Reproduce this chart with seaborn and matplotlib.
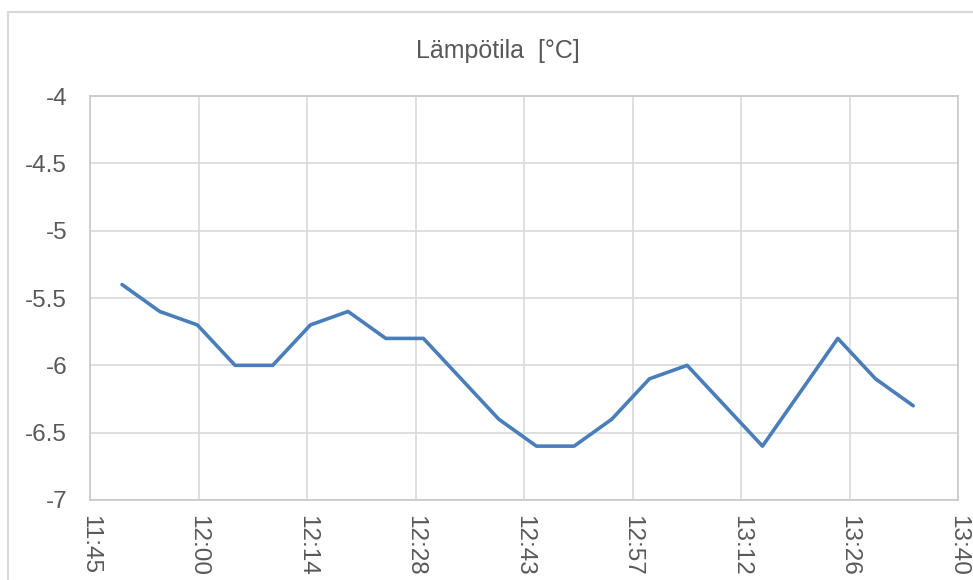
import matplotlib
matplotlib.use('Agg')
import matplotlib.pyplot as plt
import seaborn as sns
import pandas as pd
from matplotlib.patches import Rectangle

# Mittausajat ja lämpötilat
ajat = ['11:49:15', '11:54:15', '11:59:15', '12:04:15', '12:09:15', '12:14:15',
        '12:19:15', '12:24:15', '12:29:15', '12:34:15', '12:39:15', '12:44:15',
        '12:49:15', '12:54:15', '12:59:15', '13:04:15', '13:09:15', '13:14:15',
        '13:19:15', '13:24:15', '13:29:15', '13:34:15']
lampotila = [-5.4, -5.6, -5.7, -6.0, -6.0, -5.7, -5.6, -5.8, -5.8, -6.1, -6.4,
             -6.6, -6.6, -6.4, -6.1, -6.0, -6.3, -6.6, -6.2, -5.8, -6.1, -6.3]
x_tikit = ['11:45', '12:00', '12:14', '12:28', '12:43', '12:57', '13:12', '13:26', '13:40']
y_tikit = [-7, -6.5, -6, -5.5, -5, -4.5, -4]

alku = pd.Timestamp('2000-01-01 11:45')
df = pd.DataFrame({'aika': pd.to_datetime(['2000-01-01 ' + a for a in ajat]),
                   'Lämpötila': lampotila})
df['min'] = (df['aika'] - alku).dt.total_seconds() / 60
tikki_min = [i * 14.4 for i in range(len(x_tikit))]

sns.set_style('white')
plt.rcParams['font.family'] = ['Liberation Sans', 'DejaVu Sans']

harmaa = '#595959'
fig = plt.figure(figsize=(9.73, 5.8), dpi=100)
ax = fig.add_axes([90 / 973, 80 / 580, 868 / 973, 404 / 580])

sns.lineplot(data=df, x='min', y='Lämpötila', color='#4a7ebb', linewidth=2.6, ax=ax)

ax.set_xlim(tikki_min[0], tikki_min[-1])
ax.set_ylim(-7, -4)
ax.set_xticks(tikki_min)
ax.set_xticklabels(x_tikit, rotation=-90, fontsize=17.5, color=harmaa)
ax.set_yticks(y_tikit)
ax.set_yticklabels([f'{v:g}' for v in y_tikit], fontsize=17.5, color=harmaa)
ax.tick_params(axis='x', length=0, pad=11)
ax.tick_params(axis='y', length=0, pad=16.5)
ax.grid(True, color='#d9d9d9', linewidth=1.2)
for s in ax.spines.values():
    s.set_color('#c8c8c8')
    s.set_linewidth(1.2)
ax.set_xlabel('')
ax.set_ylabel('')

fig.text(498 / 973, 1 - 51 / 580, 'Lämpötila  [°C]', ha='center', va='center',
         fontsize=18, color=harmaa)

# kaavion kehys
fig.patches.append(Rectangle((8 / 973, -0.1), 1.2, 1.1 - 12 / 580,
                             transform=fig.transFigure, fill=False,
                             edgecolor='#d9d9d9', linewidth=1.5))

fig.savefig('out.png', dpi=100)
